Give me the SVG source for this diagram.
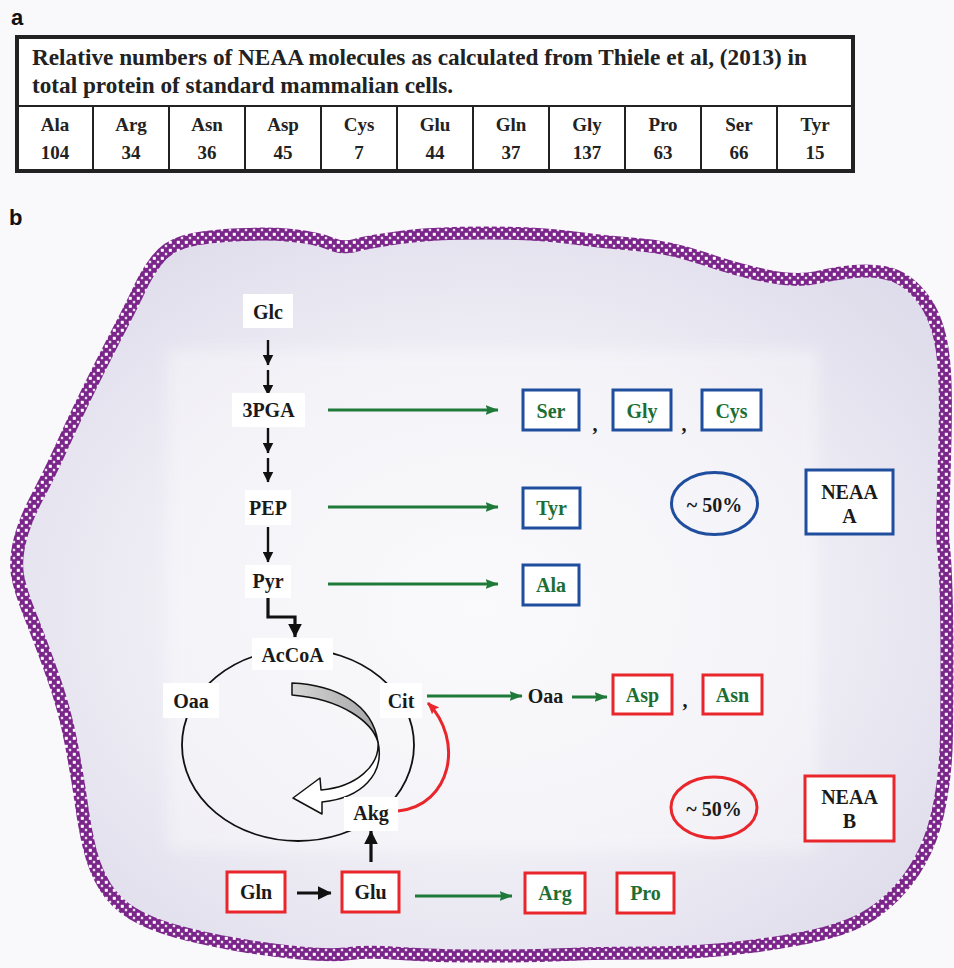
<svg xmlns="http://www.w3.org/2000/svg" width="954" height="968" viewBox="0 0 954 968">
<defs>
<style>
.lbl{font-family:"Liberation Serif","Times New Roman",serif;font-weight:bold;font-size:20px;text-anchor:middle;fill:#1a1a1a}
.gt{fill:#1c6e33}
.tt{font-family:"Liberation Serif","Times New Roman",serif;font-weight:bold;fill:#222}
.cell{font-size:19px;text-anchor:middle}
.pl{font-family:"Liberation Sans",Arial,sans-serif;font-weight:bold;font-size:22px;fill:#111}
.bx{fill:#fff}
.bb{fill:#fff;stroke:#1f4e9e;stroke-width:3}
.rb{fill:#fff;stroke:#e8262b;stroke-width:3}
.ga{stroke:#1f7a3a;stroke-width:3;fill:none;marker-end:url(#ah-g)}
.ka{stroke:#111;stroke-width:2.4;fill:none;marker-end:url(#ah-k)}
.kb{stroke:#111;stroke-width:3.2;fill:none;marker-end:url(#ah-kb)}
.tl{stroke:#222;stroke-width:2}
</style>
<marker id="ah-k" viewBox="0 0 10 10" refX="9.5" refY="5" markerWidth="11" markerHeight="11" markerUnits="userSpaceOnUse" orient="auto"><path d="M0,0 L10,5 L0,10 Z" fill="#111"/></marker>
<marker id="ah-kb" viewBox="0 0 12 12" refX="11.5" refY="6" markerWidth="14" markerHeight="14" markerUnits="userSpaceOnUse" orient="auto"><path d="M0,0 L12,6 L0,12 Z" fill="#111"/></marker>
<marker id="ah-g" viewBox="0 0 13 10" refX="12.5" refY="5" markerWidth="13" markerHeight="10" markerUnits="userSpaceOnUse" orient="auto"><path d="M0,0 L13,5 L0,10 L2,5 Z" fill="#1f7a3a"/></marker>
<marker id="ah-r" viewBox="0 0 12 10" refX="11" refY="5" markerWidth="12" markerHeight="10" markerUnits="userSpaceOnUse" orient="auto"><path d="M0,0 L12,5 L0,10 L2,5 Z" fill="#e8262b"/></marker>
<pattern id="checker" width="8" height="8" patternUnits="userSpaceOnUse">
<rect width="8" height="8" fill="#7a2589"/>
<rect x="0.8" y="0.8" width="3" height="3" fill="#fff"/>
<rect x="4.8" y="4.8" width="2.4" height="2.4" fill="#ece0f0"/>
</pattern>
<radialGradient id="cellfill" cx="50%" cy="52%" r="62%">
<stop offset="0" stop-color="#f8f8fb"/>
<stop offset="0.55" stop-color="#efeef5"/>
<stop offset="1" stop-color="#dfdceb"/>
</radialGradient>
<linearGradient id="ribbon" x1="0" y1="0" x2="1" y2="0">
<stop offset="0" stop-color="#d6d6d6"/>
<stop offset="1" stop-color="#a4a4a4"/>
</linearGradient>
<filter id="soft" x="-10%" y="-10%" width="120%" height="120%"><feGaussianBlur stdDeviation="7"/></filter>
</defs>

<rect width="954" height="968" fill="#f9f9fc"/>

<!-- Panel a -->
<g id="panel-a">
<text class="pl" x="11" y="25">a</text>
<rect x="17" y="37" width="836" height="134" fill="#fff" stroke="#222" stroke-width="4"/>
<line class="tl" x1="17" y1="106" x2="853" y2="106"/>
<g id="table-dividers">
<line class="tl" x1="93" y1="106" x2="93" y2="171"/>
<line class="tl" x1="169" y1="106" x2="169" y2="171"/>
<line class="tl" x1="245" y1="106" x2="245" y2="171"/>
<line class="tl" x1="321" y1="106" x2="321" y2="171"/>
<line class="tl" x1="397" y1="106" x2="397" y2="171"/>
<line class="tl" x1="473" y1="106" x2="473" y2="171"/>
<line class="tl" x1="549" y1="106" x2="549" y2="171"/>
<line class="tl" x1="625" y1="106" x2="625" y2="171"/>
<line class="tl" x1="701" y1="106" x2="701" y2="171"/>
<line class="tl" x1="777" y1="106" x2="777" y2="171"/>
</g>
<text class="tt" x="32" y="65" font-size="22.5" textLength="775" lengthAdjust="spacingAndGlyphs">Relative numbers of NEAA molecules as calculated from Thiele et al, (2013) in</text>
<text class="tt" x="32" y="93" font-size="22.5" textLength="421" lengthAdjust="spacingAndGlyphs">total protein of standard mammalian cells.</text>
<g class="tt cell">
<text x="55" y="131">Ala</text><text x="55" y="159">104</text>
<text x="131" y="131">Arg</text><text x="131" y="159">34</text>
<text x="207" y="131">Asn</text><text x="207" y="159">36</text>
<text x="283" y="131">Asp</text><text x="283" y="159">45</text>
<text x="359" y="131">Cys</text><text x="359" y="159">7</text>
<text x="435" y="131">Glu</text><text x="435" y="159">44</text>
<text x="511" y="131">Gln</text><text x="511" y="159">37</text>
<text x="587" y="131">Gly</text><text x="587" y="159">137</text>
<text x="663" y="131">Pro</text><text x="663" y="159">63</text>
<text x="739" y="131">Ser</text><text x="739" y="159">66</text>
<text x="815" y="131">Tyr</text><text x="815" y="159">15</text>
</g>
</g>

<!-- Panel b -->
<text class="pl" x="9" y="225">b</text>
<g id="cell">
<path id="membrane" d="M140,288 Q147,273 157,260 Q167,247 183.5,242 Q200,237 233.5,235 Q267,233 292,235.5 Q317,238 330,243.5 Q343,249 355,245.5 Q367,242 400,237.5 Q433,233 485,233 Q537,233 570,237.5 Q603,242 636.5,244.5 Q670,247 703.5,258.5 Q737,270 767,276 Q797,282 817,277.5 Q837,273 853.5,271.5 Q870,270 883.5,272.5 Q897,275 907,282.5 Q917,290 925,301.5 Q933,313 938,330 Q943,347 944.5,372 Q946,397 945,438.5 Q944,480 943,507.5 Q942,535 943.5,547.5 Q945,560 946,590 Q947,620 947,660 Q947,700 946.5,735 Q946,770 940.5,800 Q935,830 925,851 Q915,872 901.5,887.5 Q888,903 871.5,914 Q855,925 827.5,932.5 Q800,940 750,946.5 Q700,953 650,953 Q600,953 566.5,954.5 Q533,956 483,956 Q433,956 400,953.5 Q367,951 350,953.5 Q333,956 300,953 Q267,950 233.5,944 Q200,938 175,931 Q150,924 132.5,913.5 Q115,903 105,886.5 Q95,870 90,850 Q85,830 81.5,805 Q78,780 71.5,745 Q65,710 52.5,675 Q40,640 30,615 Q20,590 17.5,575 Q15,560 20,540 Q25,520 37.5,496.5 Q50,473 63.5,443 Q77,413 93.5,380 Q110,347 121.5,325 Q133,303 140,288 Z" fill="url(#cellfill)" stroke="url(#checker)" stroke-width="13" stroke-linejoin="round"/>
<rect x="168" y="350" width="650" height="500" fill="#ffffff" opacity="0.35" filter="url(#soft)"/>
</g>

<!-- TCA cycle ring -->
<g id="tca-cycle">
<ellipse cx="298" cy="745" rx="116" ry="96" fill="none" stroke="#111" stroke-width="1.8"/>
<path d="M292,683 C335,685 372,703 378,742 C372,722 342,699 292,695 Z" fill="url(#ribbon)" stroke="#111" stroke-width="1.5" stroke-linejoin="round"/>
<path d="M378,742 C380,766 356,787 321,790 L320,778 L293,798 L322,814 L322,802 C362,798 385,774 378,742 Z" fill="#fff" stroke="#111" stroke-width="1.5" stroke-linejoin="round"/>
</g>

<!-- Connectors -->
<g id="connectors">
<line class="ka" x1="268" y1="340" x2="268" y2="365"/>
<line class="ka" x1="268" y1="370" x2="268" y2="395"/>
<line class="ka" x1="268" y1="428" x2="268" y2="453"/>
<line class="ka" x1="268" y1="458" x2="268" y2="482"/>
<line class="ka" x1="268" y1="527" x2="268" y2="562"/>
<path class="kb" d="M268,598 V617 H295 V637"/>
<line class="kb" x1="297" y1="893" x2="331" y2="893"/>
<line class="kb" x1="371" y1="862" x2="371" y2="831"/>
<line class="ga" x1="328" y1="410" x2="498" y2="410"/>
<line class="ga" x1="328" y1="507" x2="498" y2="507"/>
<line class="ga" x1="328" y1="584" x2="498" y2="584"/>
<line class="ga" x1="427" y1="696" x2="522" y2="696"/>
<line class="ga" x1="572" y1="697" x2="607" y2="697"/>
<line class="ga" x1="415" y1="896" x2="512" y2="896"/>
<path d="M398,811 C452,805 464,740 428,703" fill="none" stroke="#e8262b" stroke-width="3" marker-end="url(#ah-r)"/>
</g>

<!-- Metabolite nodes -->
<g id="n-glc"><rect class="bx" x="243" y="294" width="50" height="34"/><text class="lbl" x="268" y="319">Glc</text></g>
<g id="n-3pga"><rect class="bx" x="232" y="393" width="73" height="34"/><text class="lbl" x="268.5" y="417">3PGA</text></g>
<g id="n-pep"><rect class="bx" x="245" y="490" width="46" height="35"/><text class="lbl" x="268" y="515">PEP</text></g>
<g id="n-pyr"><rect class="bx" x="245" y="565" width="46" height="33"/><text class="lbl" x="268" y="588">Pyr</text></g>
<g id="n-accoa"><rect class="bx" x="252" y="638" width="81" height="32"/><text class="lbl" x="292.5" y="662">AcCoA</text></g>
<g id="n-oaa-cycle"><rect class="bx" x="163" y="683" width="56" height="35"/><text class="lbl" x="191" y="708">Oaa</text></g>
<g id="n-cit"><rect class="bx" x="380" y="683" width="42" height="35"/><text class="lbl" x="401" y="708">Cit</text></g>
<g id="n-akg"><rect class="bx" x="344" y="797" width="54" height="34"/><text class="lbl" x="371" y="820">Akg</text></g>
<g id="n-oaa"><text class="lbl" x="545.5" y="703">Oaa</text></g>

<!-- NEAA A (blue) -->
<g id="n-ser"><rect class="bb" x="523" y="390" width="56" height="40"/><text class="lbl gt" x="551" y="418">Ser</text></g>
<g id="comma1"><text class="lbl" x="595" y="431" font-size="30">,</text></g>
<g id="n-gly"><rect class="bb" x="613" y="390" width="58" height="40"/><text class="lbl gt" x="642" y="418">Gly</text></g>
<g id="comma2"><text class="lbl" x="684" y="431" font-size="30">,</text></g>
<g id="n-cys"><rect class="bb" x="702" y="390" width="59" height="40"/><text class="lbl gt" x="731.5" y="418">Cys</text></g>
<g id="n-tyr"><rect class="bb" x="523" y="488" width="57" height="40"/><text class="lbl gt" x="551.5" y="515">Tyr</text></g>
<g id="n-ala"><rect class="bb" x="523" y="565" width="56" height="40"/><text class="lbl gt" x="551" y="592">Ala</text></g>
<g id="n-pct-a"><ellipse cx="714.5" cy="503.5" rx="43" ry="31" fill="none" stroke="#1f4e9e" stroke-width="3"/><text class="lbl" x="714.5" y="512">~ 50%</text></g>
<g id="n-neaa-a"><rect class="bb" x="806" y="470" width="87" height="64"/><text class="lbl" x="849.5" y="499">NEAA</text><text class="lbl" x="849.5" y="523">A</text></g>

<!-- NEAA B (red) -->
<g id="n-asp"><rect class="rb" x="613" y="675" width="59" height="39"/><text class="lbl gt" x="642.5" y="702">Asp</text></g>
<g id="comma3"><text class="lbl" x="685" y="707" font-size="30">,</text></g>
<g id="n-asn"><rect class="rb" x="703" y="675" width="59" height="39"/><text class="lbl gt" x="732.5" y="702">Asn</text></g>
<g id="n-pct-b"><ellipse cx="714" cy="807.5" rx="43" ry="30.5" fill="none" stroke="#e8262b" stroke-width="3"/><text class="lbl" x="714" y="816">~ 50%</text></g>
<g id="n-neaa-b"><rect class="rb" x="805" y="776" width="89" height="65"/><text class="lbl" x="849.5" y="804">NEAA</text><text class="lbl" x="849.5" y="828">B</text></g>
<g id="n-gln"><rect class="rb" x="227" y="872" width="58" height="40"/><text class="lbl" x="256" y="899">Gln</text></g>
<g id="n-glu"><rect class="rb" x="342" y="872" width="57" height="40"/><text class="lbl" x="370.5" y="899">Glu</text></g>
<g id="n-arg"><rect class="rb" x="525" y="873" width="60" height="40"/><text class="lbl gt" x="555" y="900">Arg</text></g>
<g id="n-pro"><rect class="rb" x="617" y="873" width="57" height="40"/><text class="lbl gt" x="645.5" y="900">Pro</text></g>
</svg>
